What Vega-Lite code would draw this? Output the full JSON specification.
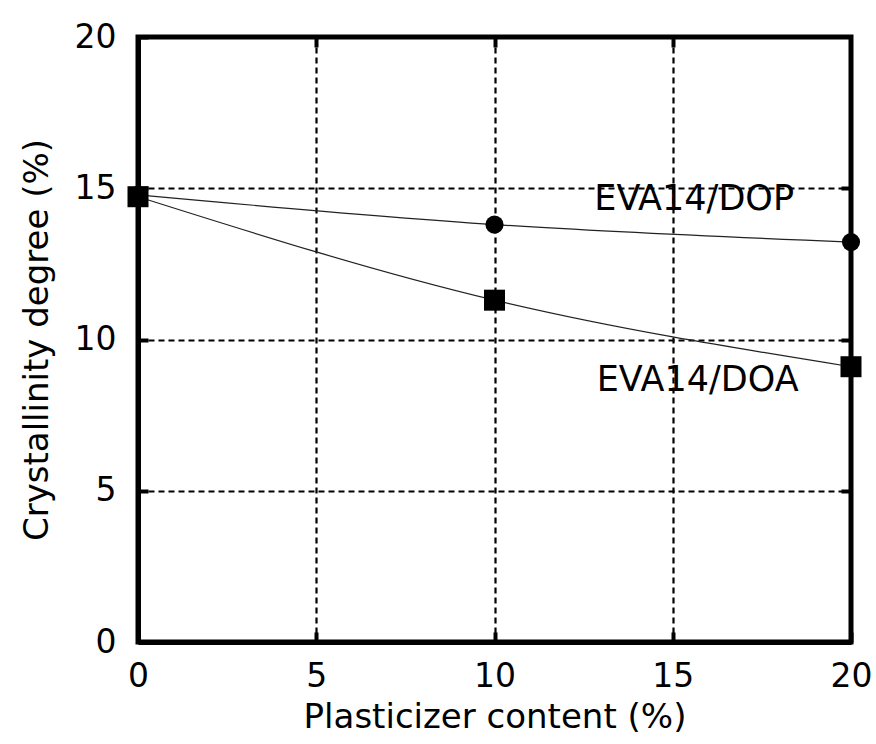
{
  "$schema": "https://vega.github.io/schema/vega-lite/v6.json",
  "width": 713,
  "height": 605,
  "autosize": {"type": "none"},
  "padding": {"left": 138, "top": 37, "right": 25, "bottom": 102},
  "config": {
    "font": "DejaVu Sans",
    "view": {"stroke": "black", "strokeWidth": 5},
    "axis": {
      "domainColor": "black", "domainWidth": 5,
      "tickColor": "black", "tickWidth": 4, "tickSize": -10,
      "labelFontSize": 33, "labelColor": "black", "labelFont": "DejaVu Sans", "labelFlush": false,
      "titleFontSize": 34, "titleFontWeight": "normal", "titleColor": "black", "titleFont": "DejaVu Sans",
      "gridColor": "black", "gridWidth": 2.2, "gridDash": [6, 4], "gridOpacity": 1
    }
  },
  "datasets": {
    "pts": [
      {"content": 0, "cryst": 14.78, "series": "EVA14/DOP"},
      {"content": 10, "cryst": 13.8, "series": "EVA14/DOP"},
      {"content": 20, "cryst": 13.22, "series": "EVA14/DOP"},
      {"content": 0, "cryst": 14.72, "series": "EVA14/DOA"},
      {"content": 10, "cryst": 11.3, "series": "EVA14/DOA"},
      {"content": 20, "cryst": 9.1, "series": "EVA14/DOA"}
    ],
    "labels": [
      {"content": 15.6, "cryst": 14.65, "text": "EVA14/DOP"},
      {"content": 15.7, "cryst": 8.65, "text": "EVA14/DOA"}
    ]
  },
  "layer": [
    {
      "data": {"name": "pts"},
      "mark": {"type": "line", "interpolate": "monotone", "color": "#222", "strokeWidth": 1.2},
      "encoding": {
        "x": {"field": "content", "type": "quantitative",
              "scale": {"domain": [0, 20], "nice": false},
              "axis": {"values": [0, 5, 10, 15, 20], "grid": true, "labelPadding": 28, "title": "Plasticizer content (%)", "titlePadding": 7}},
        "y": {"field": "cryst", "type": "quantitative",
              "scale": {"domain": [0, 20], "nice": false},
              "axis": {"values": [0, 5, 10, 15, 20], "grid": true, "labelPadding": 32, "title": "Crystallinity degree (%)", "titlePadding": 20}},
        "detail": {"field": "series"}
      }
    },
    {
      "data": {"name": "pts"},
      "mark": {"type": "point", "filled": true, "color": "black", "opacity": 1},
      "encoding": {
        "x": {"field": "content", "type": "quantitative",
              "axis": {"orient": "top", "values": [5, 10, 15], "labels": false, "title": null, "grid": false, "domain": false}},
        "y": {"field": "cryst", "type": "quantitative",
              "axis": {"orient": "right", "values": [5, 10, 15], "labels": false, "title": null, "grid": false, "domain": false}},
        "shape": {"field": "series", "type": "nominal", "legend": null,
                  "scale": {"domain": ["EVA14/DOP", "EVA14/DOA"], "range": ["circle", "square"]}},
        "size": {"field": "series", "type": "nominal", "legend": null,
                 "scale": {"domain": ["EVA14/DOP", "EVA14/DOA"], "range": [330, 441]}}
      }
    },
    {
      "data": {"name": "labels"},
      "mark": {"type": "text", "fontSize": 35, "font": "DejaVu Sans", "color": "black", "align": "center", "baseline": "middle"},
      "encoding": {
        "x": {"field": "content", "type": "quantitative", "axis": null},
        "y": {"field": "cryst", "type": "quantitative", "axis": null},
        "text": {"field": "text"}
      }
    }
  ],
  "resolve": {"axis": {"x": "independent", "y": "independent"}}
}
